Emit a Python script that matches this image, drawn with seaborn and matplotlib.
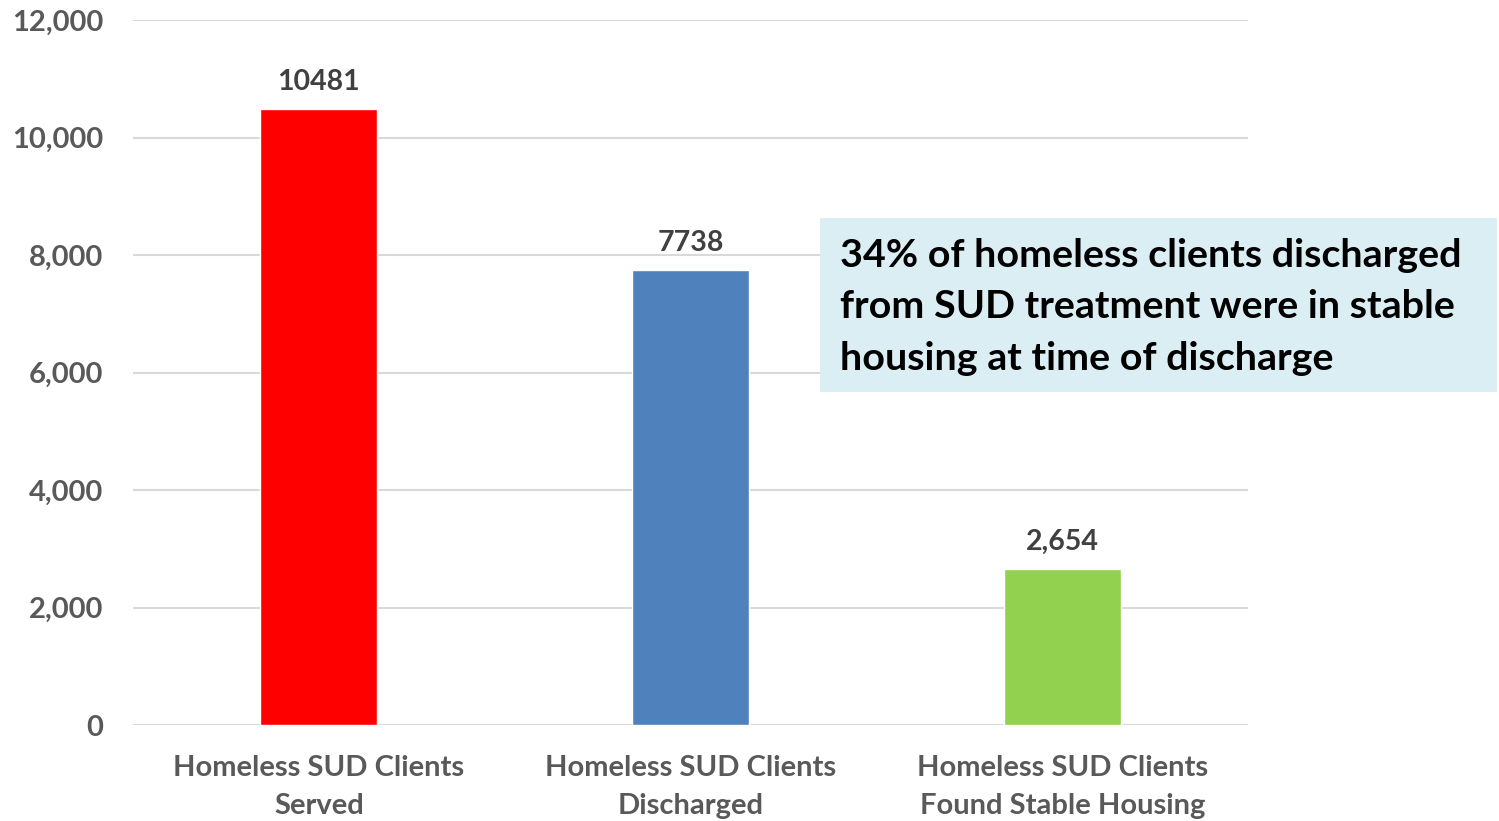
import matplotlib
matplotlib.use("Agg")
import matplotlib.pyplot as plt
from matplotlib.patches import Rectangle
from matplotlib.ticker import FuncFormatter, MultipleLocator
import seaborn as sns
import pandas as pd

categories = [
    "Homeless SUD Clients\nServed",
    "Homeless SUD Clients\nDischarged",
    "Homeless SUD Clients\nFound Stable Housing",
]
clients = [10481, 7738, 2654]
value_labels = ["10481", "7738", "2,654"]
bar_colors = ["#FF0000", "#4F81BD", "#92D050"]
callout = ("34% of homeless clients discharged\n"
           "from SUD treatment were in stable\n"
           "housing at time of discharge")

sns.set_theme(style="white")
plt.rcParams["font.family"] = ["Lato", "DejaVu Sans"]
plt.rcParams["font.weight"] = "bold"

df = pd.DataFrame({"category": categories, "clients": clients})

fig = plt.figure(figsize=(14.99, 8.21), dpi=100)
ax = fig.add_axes([0.0887, 0.1169, 0.8326 - 0.0887, 0.9756 - 0.1169])

sns.barplot(data=df, x="category", y="clients", hue="category",
            palette=bar_colors, width=0.315, legend=False, ax=ax,
            saturation=1, zorder=3)

ax.set_xlim(-0.5, 2.5)
ax.set_ylim(0, 12000)
ax.yaxis.set_major_locator(MultipleLocator(2000))
ax.yaxis.set_major_formatter(FuncFormatter(lambda v, p: f"{int(v):,}"))
ax.grid(axis="y", color="#D9D9D9", linewidth=1.5, zorder=0)
ax.grid(axis="x", visible=False)
for s in ax.spines.values():
    s.set_visible(False)
ax.set_xlabel("")
ax.set_ylabel("")
ax.tick_params(axis="both", length=0, colors="#595959", labelsize=21)
ax.tick_params(axis="y", pad=21.5)
ax.tick_params(axis="x", pad=21.5)
for lbl in ax.get_xticklabels() + ax.get_yticklabels():
    lbl.set_fontweight("bold")
    lbl.set_color("#595959")
for lbl in ax.get_xticklabels():
    lbl.set_linespacing(1.58)
for lbl in ax.get_yticklabels():
    lbl.set_horizontalalignment("right")

for container in ax.containers:
    for bar in container:
        idx = int(round(bar.get_x() + bar.get_width() / 2))
        ax.annotate(value_labels[idx],
                    (bar.get_x() + bar.get_width() / 2, bar.get_height()),
                    xytext=(0, 10.5), textcoords="offset points",
                    ha="center", va="bottom", fontsize=20.5,
                    fontweight="bold", color="#404040")

fig.patches.append(Rectangle((820 / 1499, 1 - 392 / 821), 677 / 1499, 174 / 821,
                             transform=fig.transFigure, facecolor="#DBEEF3",
                             edgecolor="none", zorder=5))
fig.text(840 / 1499, 1 - 307 / 821, callout, ha="left", va="center",
         fontsize=28.4, fontweight="bold", color="#000000",
         linespacing=1.56, zorder=6)

fig.savefig("out.png", dpi=100)
